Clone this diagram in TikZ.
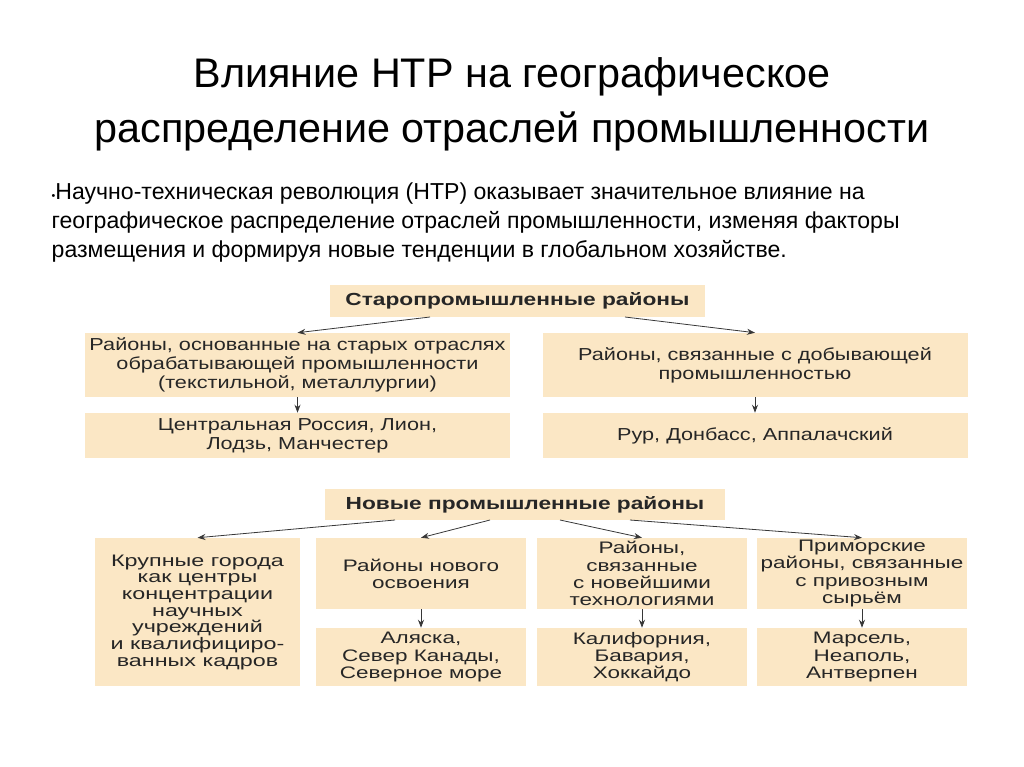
\documentclass[tikz,border=0pt]{standalone}
\usepackage{fontspec}
\setmainfont{Liberation Sans}
\newfontfamily\boxfont[FakeStretch=1.25]{Liberation Sans}
\newfontfamily\smallfont[FakeStretch=1.35]{Liberation Sans}
\newfontfamily\widefont[FakeStretch=1.4]{Liberation Sans}
\newfontfamily\headfont[FakeStretch=1.3]{Liberation Sans}
\definecolor{beige}{RGB}{251,231,197}
\definecolor{tinta}{RGB}{38,38,38}
\definecolor{flecha}{RGB}{55,55,55}
\usetikzlibrary{arrows.meta}

\begin{document}
\begin{tikzpicture}[
    x=0.75pt, y=-0.75pt,
    caja/.style={rectangle, fill=beige, text=tinta, align=center, inner sep=0pt,
      font=\boxfont\fontsize{13}{14.25}\selectfont},
    cajachica/.style={caja, font=\smallfont\fontsize{12.5}{12.9}\selectfont},
    cabeza/.style={rectangle, fill=beige, text=tinta, align=center, inner sep=0pt,
      font=\headfont\bfseries\fontsize{13.1}{14}\selectfont},
    flecha/.style={->, draw=flecha, semithick},
    >={Stealth[length=6pt,width=4.5pt]}
  ]
    \useasboundingbox (0,0) rectangle (1024,767);

    % titulo y texto
    \node[align=center, font=\fontsize{31}{41}\selectfont, text=black] (titulo) at (512,104)
      {Влияние НТР на географическое\\распределение отраслей промышленности};
    \node[align=left, anchor=north west, font=\fontsize{17.3}{21.75}\selectfont, text=black] (texto) at (47,178)
      {{\footnotesize\textbullet}Научно-техническая революция (НТР) оказывает значительное влияние на\\
       географическое распределение отраслей промышленности, изменяя факторы\\
       размещения и формируя новые тенденции в глобальном хозяйстве.};

    % старопромышленные районы
    \node[cabeza, minimum width=281.25pt, minimum height=24pt] (viejos) at (517.5,301) {Старопромышленные районы};
    \node[caja, minimum width=318.75pt, minimum height=48pt] (v1) at (297.5,365)
      {Районы, основанные на старых отраслях\\обрабатывающей промышленности\\(текстильной, металлургии)};
    \node[caja, minimum width=318.75pt, minimum height=48pt] (v2) at (755,365)
      {Районы, связанные с добывающей\\промышленностью};
    \node[caja, minimum width=318.75pt, minimum height=33.75pt] (v1e) at (297.5,435.5)
      {Центральная Россия, Лион,\\Лодзь, Манчестер};
    \node[caja, minimum width=318.75pt, minimum height=33.75pt] (v2e) at (755,435.5)
      {Рур, Донбасс, Аппалачский};

    \draw[flecha] (430,317) -- (v1.north);
    \draw[flecha] (625,317) -- (v2.north);
    \draw[flecha] (v1) -- (v1e);
    \draw[flecha] (v2) -- (v2e);

    % новые промышленные районы
    \node[cabeza, minimum width=300pt, minimum height=23.25pt] (nuevos) at (525,504.5) {Новые промышленные районы};
    \node[caja, minimum width=153.75pt, minimum height=111pt,
      font=\widefont\fontsize{12.5}{12.5}\selectfont] (n1) at (197.5,612)
      {Крупные города\\как центры\\концентрации\\научных\\учреждений\\и квалифициро-\\ванных кадров};
    \node[cajachica, minimum width=157.5pt, minimum height=53.25pt] (n2) at (421,573.5)
      {Районы нового\\освоения};
    \node[cajachica, minimum width=157.5pt, minimum height=53.25pt] (n3) at (642,573.5)
      {Районы,\\связанные\\с новейшими\\технологиями};
    \node[cajachica, minimum width=157.5pt, minimum height=53.25pt] (n4) at (862,573.5)
      {Приморские\\районы, связанные\\с привозным\\сырьём};
    \node[cajachica, minimum width=157.5pt, minimum height=43.5pt] (n2e) at (421,657)
      {Аляска,\\Север Канады,\\Северное море};
    \node[cajachica, minimum width=157.5pt, minimum height=43.5pt] (n3e) at (642,657)
      {Калифорния,\\Бавария,\\Хоккайдо};
    \node[cajachica, minimum width=157.5pt, minimum height=43.5pt] (n4e) at (862,657)
      {Марсель,\\Неаполь,\\Антверпен};

    \draw[flecha] (395,520) -- (n1.north);
    \draw[flecha] (490,520) -- (n2.north);
    \draw[flecha] (560,520) -- (n3.north);
    \draw[flecha] (630,520) -- (n4.north);
    \draw[flecha] (n2) -- (n2e);
    \draw[flecha] (n3) -- (n3e);
    \draw[flecha] (n4) -- (n4e);
  \end{tikzpicture}
\end{document}
